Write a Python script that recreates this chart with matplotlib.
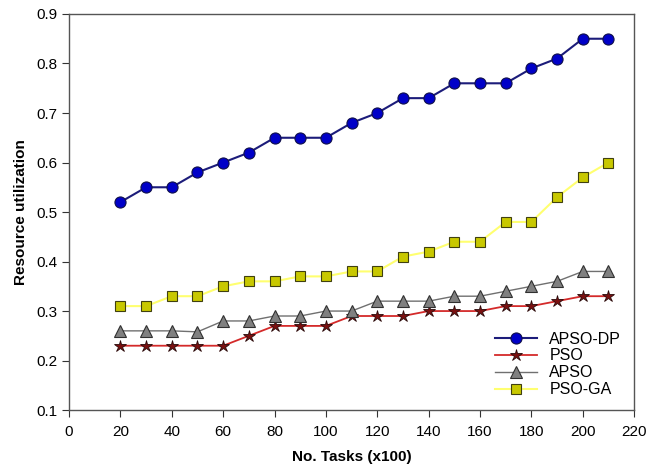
import matplotlib
matplotlib.use("Agg")
import matplotlib.pyplot as plt

plt.rcParams['font.family'] = ['Liberation Sans', 'DejaVu Sans']

tasks = [20, 30, 40, 50, 60, 70, 80, 90, 100, 110, 120, 130, 140, 150, 160, 170, 180, 190, 200, 210]
apso_dp = [0.52, 0.55, 0.55, 0.58, 0.60, 0.62, 0.65, 0.65, 0.65, 0.68, 0.70, 0.73, 0.73, 0.76, 0.76, 0.76, 0.79, 0.81, 0.85, 0.85]
pso = [0.23, 0.23, 0.23, 0.23, 0.23, 0.25, 0.27, 0.27, 0.27, 0.29, 0.29, 0.29, 0.30, 0.30, 0.30, 0.31, 0.31, 0.32, 0.33, 0.33]
apso = [0.26, 0.26, 0.26, 0.258, 0.28, 0.28, 0.29, 0.29, 0.30, 0.30, 0.32, 0.32, 0.32, 0.33, 0.33, 0.34, 0.35, 0.36, 0.38, 0.38]
pso_ga = [0.31, 0.31, 0.33, 0.33, 0.35, 0.36, 0.36, 0.37, 0.37, 0.38, 0.38, 0.41, 0.42, 0.44, 0.44, 0.48, 0.48, 0.53, 0.57, 0.60]

fig = plt.figure(figsize=(6.64, 4.66), dpi=100)
ax = fig.add_axes([0.104, 0.12, 0.851, 0.85])

ax.plot(tasks, apso_dp, color='#1c1c7a', lw=1.5, marker='o', ms=8,
        mfc='#0000c8', mec='#10104a', mew=0.8, label='APSO-DP')
ax.plot(tasks, pso, color='#d42a2a', lw=1.3, marker='*', ms=9,
        mfc='#7a1010', mec='#2a0a0a', mew=0.6, label='PSO')
ax.plot(tasks, apso, color='#707070', lw=1.0, marker='^', ms=8,
        mfc='#808080', mec='#303030', mew=0.8, label='APSO')
ax.plot(tasks, pso_ga, color='#ffff70', lw=1.5, marker='s', ms=7,
        mfc='#c8c800', mec='#404010', mew=0.8, label='PSO-GA')

ax.set_xlim(0, 220)
ax.set_ylim(0.1, 0.9)
ax.set_xticks(range(0, 221, 20))
ax.set_yticks([0.1, 0.2, 0.3, 0.4, 0.5, 0.6, 0.7, 0.8, 0.9])
ax.tick_params(direction='out', length=5, labelsize=11, color='#333333', top=False, right=False)
ax.tick_params(axis='x', pad=6)
for s in ax.spines.values():
    s.set_color('#555555')
    s.set_linewidth(1.0)

ax.set_xlabel('No. Tasks (x100)', fontsize=11, fontweight='bold', labelpad=8)
ax.set_ylabel('Resource utilization', fontsize=11, fontweight='bold', labelpad=6)

ax.legend(loc='lower right', frameon=False, fontsize=11.5, handlelength=2.6,
          labelspacing=0.12, borderaxespad=0.4)

fig.savefig('out.png', dpi=100)
